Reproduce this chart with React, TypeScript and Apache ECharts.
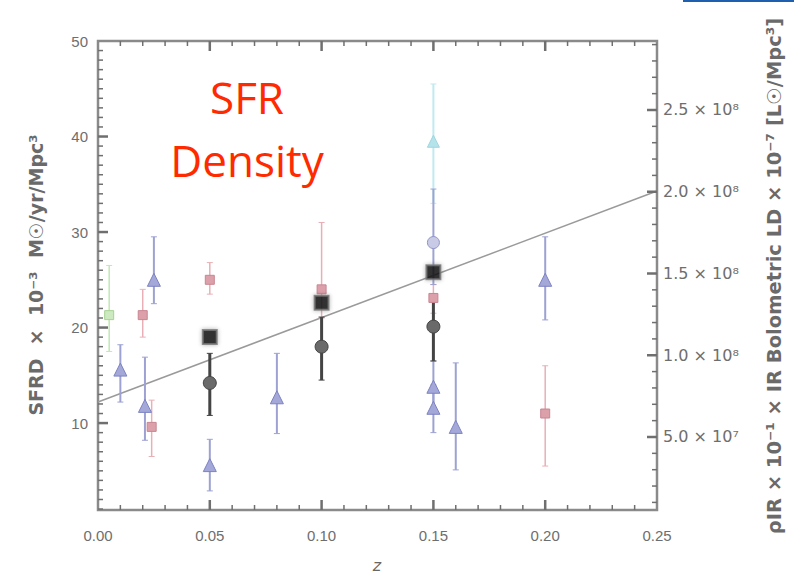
import React, { useEffect, useRef } from "react";
import * as echarts from "echarts";

// ---------- data ----------
const X_TICKS = [0, 0.05, 0.1, 0.15, 0.2, 0.25];
const LEFT_TICKS = [10, 20, 30, 40, 50];
const RIGHT_TICKS = [5e7, 1e8, 1.5e8, 2e8, 2.5e8];
const RIGHT_TICK_LABELS = ["5.0 × 10⁷", "1.0 × 10⁸", "1.5 × 10⁸", "2.0 × 10⁸", "2.5 × 10⁸"];

// black filled squares
const SQ_Z = [0.05, 0.1, 0.15];
const SQ_V = [19.0, 22.6, 25.8];

// black circles with error bars
const BC_Z = [0.05, 0.1, 0.15];
const BC_V = [14.2, 18.0, 20.1];
const BC_LO = [10.8, 14.5, 16.5];
const BC_HI = [17.3, 21.1, 23.5];

// blue triangles
const BT_Z = [0.01, 0.025, 0.021, 0.05, 0.08, 0.15, 0.15, 0.16, 0.2];
const BT_V = [15.6, 25.0, 11.8, 5.6, 12.7, 13.8, 11.6, 9.6, 25.0];
const BT_LO = [12.2, 22.5, 8.2, 2.9, 8.9, 11.0, 9.0, 5.1, 20.8];
const BT_HI = [18.2, 29.5, 16.9, 8.3, 17.3, 16.5, 14.0, 16.3, 29.5];

// blue circle
const BO_Z = [0.15];
const BO_V = [28.9];
const BO_LO = [24.5];
const BO_HI = [34.5];

// cyan triangle
const CT_Z = [0.15];
const CT_V = [39.5];
const CT_LO = [33.0];
const CT_HI = [45.5];

// red points
const RD_Z = [0.02, 0.024, 0.05, 0.1, 0.15, 0.2];
const RD_V = [21.3, 9.6, 25.0, 24.0, 23.1, 11.0];
const RD_LO = [19.0, 6.5, 23.5, 21.0, 21.5, 5.5];
const RD_HI = [24.0, 12.4, 26.8, 31.0, 24.5, 16.0];

// green point
const GR_Z = [0.005];
const GR_V = [21.3];
const GR_LO = [17.5];
const GR_HI = [26.5];

// fit line
const LINE_Z = [0, 0.25];
const LINE_V = [12.2, 34.3];

// axis ranges
const X_MIN = X_TICKS[0];
const X_MAX = X_TICKS[X_TICKS.length - 1];
const Y_MIN = 0.9;
const Y_MAX = 50;
const R_MIN = 0.535e7;
const R_MAX = 2.922e8;

// ---------- tick positions (axis decoration) ----------
const xMinor: number[] = [];
for (let i = 1; i < 25; i++) if (i % 5 !== 0) xMinor.push(i / 100);
const leftMinor: number[] = [];
for (let v = 1; v < 50; v++) if (v % 10 !== 0) leftMinor.push(v);
const rightMinor: number[] = [];
for (let k = 1; k * 1e7 < R_MAX; k++) if (k % 5 !== 0) rightMinor.push(k * 1e7);

// ---------- helpers ----------
const zip = (a: number[], b: number[]) => a.map((v, i) => [v, b[i]]);
const zip3 = (a: number[], b: number[], c: number[]) => a.map((v, i) => [v, b[i], c[i]]);

const AXIS_COLOR = "#8a8a8a";
const TICK_COLOR = "#6f6f6f";
const LABEL_COLOR = "#6e6e6e";

function errSeries(name: string, z: number[], lo: number[], hi: number[], color: string, width: number) {
  return {
    name,
    type: "custom",
    xAxisIndex: 0,
    yAxisIndex: 0,
    silent: true,
    z: 2,
    data: zip3(z, lo, hi),
    renderItem: (params: any, api: any) => {
      const x = api.value(0);
      const p1 = api.coord([x, api.value(1)]);
      const p2 = api.coord([x, api.value(2)]);
      const cap = 3;
      return {
        type: "group",
        children: [
          { type: "line", shape: { x1: p1[0], y1: p1[1], x2: p2[0], y2: p2[1] }, style: { stroke: color, lineWidth: width } },
          { type: "line", shape: { x1: p1[0] - cap, y1: p1[1], x2: p1[0] + cap, y2: p1[1] }, style: { stroke: color, lineWidth: 1 } },
          { type: "line", shape: { x1: p2[0] - cap, y1: p2[1], x2: p2[0] + cap, y2: p2[1] }, style: { stroke: color, lineWidth: 1 } },
        ],
      };
    },
  };
}

// ticks drawn through the axis scales: x ticks on bottom+top, y ticks on left or right edge
function xTickSeries(name: string, values: number[], len: number, width: number) {
  return {
    name,
    type: "custom",
    xAxisIndex: 0,
    yAxisIndex: 0,
    silent: true,
    clip: false,
    z: 6,
    data: values.map((v) => [v, Y_MIN]),
    renderItem: (params: any, api: any) => {
      const cs = params.coordSys;
      const px = api.coord([api.value(0), Y_MIN])[0];
      const yb = cs.y + cs.height;
      return {
        type: "group",
        children: [
          { type: "line", shape: { x1: px, y1: yb, x2: px, y2: yb - len }, style: { stroke: TICK_COLOR, lineWidth: width } },
          { type: "line", shape: { x1: px, y1: cs.y, x2: px, y2: cs.y + len }, style: { stroke: TICK_COLOR, lineWidth: width } },
        ],
      };
    },
  };
}

function yTickSeries(name: string, values: number[], yAxisIndex: number, side: "left" | "right", len: number, width: number) {
  return {
    name,
    type: "custom",
    xAxisIndex: 0,
    yAxisIndex,
    silent: true,
    clip: false,
    z: 6,
    data: values.map((v) => [X_MIN, v]),
    renderItem: (params: any, api: any) => {
      const cs = params.coordSys;
      const py = api.coord([X_MIN, api.value(1)])[1];
      const x0 = side === "left" ? cs.x : cs.x + cs.width;
      const x1 = side === "left" ? cs.x + len : cs.x + cs.width - len;
      return { type: "line", shape: { x1: x0, y1: py, x2: x1, y2: py }, style: { stroke: TICK_COLOR, lineWidth: width } };
    },
  };
}

function scatter(name: string, z: number[], v: number[], symbol: string, size: number, color: string, border: string, zz = 3) {
  return {
    name,
    type: "scatter",
    xAxisIndex: 0,
    yAxisIndex: 0,
    symbol,
    symbolSize: size,
    z: zz,
    data: zip(z, v),
    itemStyle: { color, borderColor: border, borderWidth: 1, opacity: 1 },
  };
}

export default function App() {
  const ref = useRef<HTMLDivElement>(null);
  useEffect(() => {
    if (!ref.current) return;
    const chart = echarts.init(ref.current, undefined, { renderer: "svg" });
    const option: any = {
      animation: false,
      backgroundColor: "#ffffff",
      grid: [{ left: 98, top: 41, width: 559, height: 469, show: true, borderColor: AXIS_COLOR, borderWidth: 2.5, backgroundColor: "transparent" }],
      xAxis: [
        {
          type: "value",
          position: "bottom",
          min: X_MIN,
          max: X_MAX,
          interval: 0.05,
          axisLine: { show: true, onZero: false, lineStyle: { color: AXIS_COLOR } },
          axisTick: { show: false },
          splitLine: { show: false },
          axisLabel: {
            show: true,
            margin: 18,
            color: LABEL_COLOR,
            fontSize: 15,
            fontFamily: "Liberation Sans",
            formatter: (v: number) => v.toFixed(2),
          },
        },
      ],
      yAxis: [
        {
          type: "value",
          position: "left",
          min: Y_MIN,
          max: Y_MAX,
          axisLine: { show: true, onZero: false, lineStyle: { color: AXIS_COLOR } },
          axisTick: { show: false },
          splitLine: { show: false },
          axisLabel: {
            show: true,
            margin: 10,
            color: LABEL_COLOR,
            fontSize: 15,
            fontFamily: "Liberation Sans",
            customValues: LEFT_TICKS,
            formatter: (v: number) => String(Math.round(v)),
          },
        },
        {
          type: "value",
          position: "right",
          min: R_MIN,
          max: R_MAX,
          axisLine: { show: true, onZero: false, lineStyle: { color: AXIS_COLOR } },
          axisTick: { show: false },
          splitLine: { show: false },
          axisLabel: {
            show: true,
            margin: 6,
            color: LABEL_COLOR,
            fontSize: 16,
            fontFamily: "DejaVu Sans",
            customValues: RIGHT_TICKS,
            formatter: (v: number) => {
              const i = RIGHT_TICKS.findIndex((t) => Math.abs(t - v) < 1);
              return i >= 0 ? RIGHT_TICK_LABELS[i] : "";
            },
          },
        },
      ],
      series: [
        {
          name: "fit",
          type: "line",
          xAxisIndex: 0,
          yAxisIndex: 0,
          data: zip(LINE_Z, LINE_V),
          symbol: "none",
          lineStyle: { color: "#9a9a9a", width: 1.5 },
          z: 1,
        },
        xTickSeries("x major ticks", X_TICKS.slice(1, -1), 10, 2.5),
        xTickSeries("x minor ticks", xMinor, 5, 1.5),
        yTickSeries("left major ticks", LEFT_TICKS.slice(0, -1), 0, "left", 10, 2.5),
        yTickSeries("left minor ticks", leftMinor, 0, "left", 5, 1.5),
        yTickSeries("right major ticks", RIGHT_TICKS, 1, "right", 10, 2.5),
        yTickSeries("right minor ticks", rightMinor, 1, "right", 5, 1.5),
        errSeries("green err", GR_Z, GR_LO, GR_HI, "#c4e6b4", 1.5),
        errSeries("red err", RD_Z, RD_LO, RD_HI, "#e8b0b6", 1.5),
        errSeries("cyan err", CT_Z, CT_LO, CT_HI, "#bfeaf0", 2),
        errSeries("blue circle err", BO_Z, BO_LO, BO_HI, "#9ea3d4", 2),
        errSeries("blue err", BT_Z, BT_LO, BT_HI, "#9da2d2", 2),
        errSeries("black err", BC_Z, BC_LO, BC_HI, "#444444", 3),
        scatter("green", GR_Z, GR_V, "rect", 9, "#cde9c0", "#a6d394"),
        scatter("red", RD_Z, RD_V, "rect", 9, "#dca0aa", "#c98592"),
        scatter("cyan", CT_Z, CT_V, "triangle", 12, "#b5e3ea", "#9fd6df"),
        scatter("blue circle", BO_Z, BO_V, "circle", 12, "#c9cbe6", "#8f94c8"),
        scatter("blue", BT_Z, BT_V, "triangle", 13, "#a3a8d8", "#7d83c2"),
        scatter("black circles", BC_Z, BC_V, "circle", 13, "#6a6a6a", "#444444", 4),
        {
          ...scatter("black squares", SQ_Z, SQ_V, "rect", 14, "#111111", "#555555", 5),
          itemStyle: { color: "#111111", borderColor: "#777777", borderWidth: 2, shadowBlur: 4, shadowColor: "rgba(0,0,0,0.35)" },
        },
      ],
      graphic: [
        {
          type: "rect",
          left: 683,
          top: 0,
          shape: { width: 111, height: 2 },
          style: { fill: "#1f5fb0" },
        },
        {
          type: "text",
          x: 247,
          y: 97,
          style: {
            text: "SFR",
            fill: "#ff2a00",
            fontSize: 44,
            fontFamily: "Open Sans",
            align: "center",
            verticalAlign: "middle",
          },
          z: 100,
        },
        {
          type: "text",
          x: 247,
          y: 160,
          style: {
            text: "Density",
            fill: "#ff2a00",
            fontSize: 44,
            fontFamily: "Open Sans",
            align: "center",
            verticalAlign: "middle",
          },
          z: 100,
        },
        {
          type: "text",
          x: 36,
          y: 275,
          rotation: Math.PI / 2,
          style: {
            text: "SFRD  ×  10⁻³  M☉/yr/Mpc³",
            fill: "#6a6a6a",
            fontSize: 19,
            fontFamily: "DejaVu Sans",
            fontWeight: "bold",
            align: "center",
            verticalAlign: "middle",
          },
        },
        {
          type: "text",
          x: 774,
          y: 276,
          rotation: Math.PI / 2,
          style: {
            text: "ρIR × 10⁻¹ × IR Bolometric LD × 10⁻⁷ [L☉/Mpc³]",
            fill: "#6a6a6a",
            fontSize: 19.5,
            fontFamily: "DejaVu Sans",
            fontWeight: "bold",
            align: "center",
            verticalAlign: "middle",
          },
        },
        {
          type: "text",
          x: 377,
          y: 565,
          style: {
            text: "z",
            fill: "#666666",
            fontSize: 16,
            fontStyle: "italic",
            fontFamily: "DejaVu Sans",
            align: "center",
            verticalAlign: "middle",
          },
        },
      ],
    };
    chart.setOption(option);
    return () => chart.dispose();
  }, []);
  return <div ref={ref} style={{ position: "fixed", left: 0, top: 0, width: 794, height: 579, background: "#fff" }} />;
}
